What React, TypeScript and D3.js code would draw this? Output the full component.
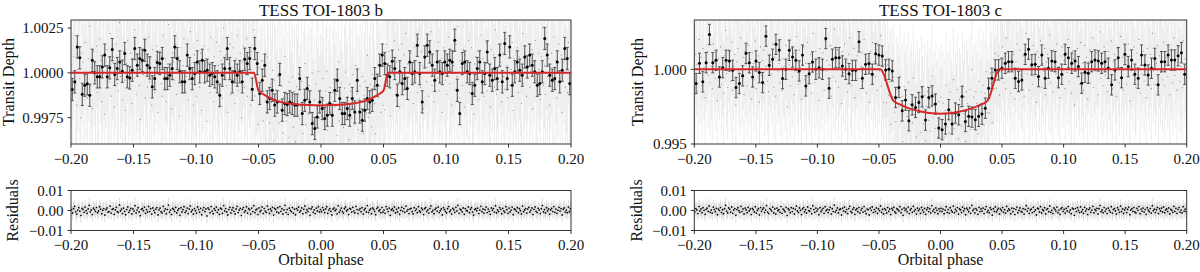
import * as d3 from "d3";
import React from "react";

const WIDTH = 1200;
const HEIGHT = 272;
const FONT = '"Liberation Serif", "Times New Roman", Times, serif';

const xTicks = [-0.2, -0.15, -0.1, -0.05, 0, 0.05, 0.1, 0.15, 0.2];

// binned light curve of TOI-1803 b, deviation from 1 in ppm (bins of 0.002 in phase)
const binStartB = -0.199;
const binStepB = 0.002;
const binErrB = 0.00062;
const binPpmB = [
  -930, -500, 1450, 840, -1200, -690, -610, -1250, 700, 0,
  -220, -220, 330, 990, -220, 280, 1300, -90, 240, 610,
  90, 1080, -220, -280, 150, 1360, 430, 800, 700, 1260,
  430, 280, -780, -320, 580, 520, 800, -320, -320, -130,
  240, 1450, 800, 60, -500, -500, 990, 240, -320, -40,
  610, 60, 700, 60, 150, -130, -40, -220, -500, -1250,
  -130, 240, 1360, 240, -500, 60, -130, 60, -500, 760,
  520, 800, -910,
  // in transit
  1360, 520, -1150, -410, 430, -1620, -1430, -970, -1800, -1620,
  -90, -2080, -1710, -1770, -1620, -1710, -1800, -1800, -320, -2270,
  -1530, -870, -1620, -2830, -3100, -2460, -1620,
  -1990, -2550, -2360, -1710, -2360, -970, -410, -1430, -2270, -2270,
  -1990, -2360, -1430, -2180, -410, -2180, -2640, -2080, -1430, -1620,
  -1530, -320, -690, 430, 990, 520,
  // after egress
  -130, -220, 650, 240, -1250, 60, -600, -320, -870, 610,
  -40, 60, 1540, -40, -1620, 890, 1540, 1170, 430, -410,
  610, 60, -40, 610, 430, 700, 610, 1820, -970, -2270,
  520, 610, 60, -40, -1150, -690, 240, 610, -500, -40,
  1170, -130, -410, 240, -320, 990, -500, 1640, -320, 1450,
  -690, 60, 610, 150, -130, 890, 330, 990, 430, 60,
  -690, -600, 60, 1920, 990, -130, -410, -320, 610, -500,
  150, 1360, 800, -600,
];

// binned light curve of TOI-1803 c, deviation from 1 in ppm (bins of 0.0027 in phase)
const binStartC = -0.1985;
const binStepC = 0.0027;
const binErrC = 0.00068;
const binPpmC = [
  -950, 400, -840, 440, 2330, 440, 600, -510, 110, 600,
  560, -70, -1220, -950, -440, 1070, 440, -510, 560, -220,
  -890, 2220, 270, 670, 1670, 1290, -620, 0, 1270, 820,
  600, -110, 950, -1110, -290, 490, 0, 100, 0, 2060,
  -1270, 670, 780, 780, 220, 0, -290, -70, -70, 1840,
  -600, 330, 380, -330, 1040, 950,
  // in transit
  890, -40, 0, -110, -1890, -1220, -2780, -2060, -3440, -2380,
  -2550, -2220, -1840, -3400, -1890, -1780, -2330, -3930, -4040, -3660,
  -2700, -3660, -2930, -3040, -1820, -3490, -3150, -3200, -3370, -3150,
  -3000, -2600, -1270, -600, -40, -40,
  // after egress
  70, 400, 510, 510, -600, -820, -710, 1000, 1350, 300,
  330, -490, 950, -600, 70, 560, 510, -560, -330, 1000,
  780, 400, 560, 180, -930, -200, -270, 510, 620, 560,
  400, 510, 70, -1040, -40, 780, -560, 1000, 180, 620,
  -330, -600, 950, 290, -380, 70, 730, -1040, 510, 510,
  950, 620, 620, 910, 1110, -330,
];

// transit models
const modelPhaseB = [
  -0.2, -0.0536, -0.05, -0.045, -0.04, -0.035, -0.03, -0.02, -0.01, 0,
  0.01, 0.02, 0.03, 0.035, 0.04, 0.045, 0.05, 0.0536, 0.2,
];
const modelFluxB = [
  1, 1, 0.99901, 0.99876, 0.99857, 0.99843, 0.99834, 0.99825, 0.9982, 0.99818,
  0.9982, 0.99825, 0.99834, 0.99843, 0.99857, 0.99876, 0.99901, 1, 1,
];
const modelPhaseC = [
  -0.2, -0.049, -0.0383, -0.033, -0.025, -0.015, -0.007, 0,
  0.007, 0.015, 0.025, 0.033, 0.0383, 0.048, 0.2,
];
const modelFluxC = [
  1, 1, 0.9979, 0.99765, 0.99737, 0.99716, 0.99706, 0.99703,
  0.99706, 0.99716, 0.99737, 0.99765, 0.9979, 1, 1,
];

// residuals of the unbinned data, in units of 1e-4
const residB = [
  4, -12, 9, 21, -6, -18, 2, 14, -3, -25, 11, 6, -9, 17, -1, -14, 8, 26, -7, 3,
  -20, 12, 5, -4, 15, -11, -2, 19, 7, -16, 1, 10, -23, 4, 13, -8, -5, 22, -13, 6,
  9, -19, 3, 16, -6, -10, 28, -2, 7, -15, 12, -4, -21, 5, 18, -9, 1, 11, -17, 8,
  -3, 24, -12, 2, 14, -7, -26, 6, 10, -1, 17, -14, 4, -8, 20, -5, 9, -18, 13, 0,
  -11, 7, 15, -22, 3, 12, -6, -13, 21, -3, 8, -16, 5, 27, -9, 2, -20, 11, 6, -4,
  16, -12, 1, 9, -24, 14, -7, 4, 19, -10, -2, 12, -15, 7, 23, -6, 3, -18, 10, -1,
  -13, 18, 5, -8, 11, -21, 2, 15, -5, 8, -27, 13, 6, -11, 20, -3, -16, 9, 1, 17,
  -9, 4, -19, 12, 7, -14, 25, -2, 10, -7, -22, 5, 16, -12, 3, 14, -4, -17, 8, 21,
  -10, 2, 11, -25, 6, 15, -8, -1, 19, -13, 9, 4, -18, 12, -5, 24, -11, 3, 7, -20,
  13, -6, 1, 18, -15, 10, -3, -9, 22, 5, -14, 8, -2, 16, -23, 11, 6, -7, 14, -12,
  20, -4, 9, -17, 3, 26, -10, 5, -19, 12, 1, -6, 15, -13, 7, -21, 10, 2, 17, -8,
  -1, 13, -16, 6, 23, -11, 4, -5, 11, -24, 8, 18, -9, 3, -15, 12, -2, 19, -7, 5,
  -6, 15, 3, -11, 8, 19, -14, 2, 10, -4, -22, 7, 13, -1, 6, -17, 24, -9, 1, 12,
  -5, -13, 9, 18, -2, 4, -20, 11, 7, -8, 16, -3, -12, 21, 5, -15, 2, 9, -6, 14,
  -18, 3, 11, -7, 25, -10, 1, 8, -16, 13, 6, -4, -21, 10, 17, -2, 4, -11, 15, -8,
  2, -14, 20, 7, -5, 12, -24, 3, 9, -1, 18, -12, 6, -7, 13, -19, 1, 16, -4, 10,
  -9, 22, -3, 5, -15, 8, 11, -6, -17, 14, 0, 7, -11, 19, -2, -8, 12, 4, -20, 9,
  15, -5, 3, -13, 10, 23, -7, 1, -16, 6, 12, -3, 17, -10, -1, 8, -22, 14, 5, -4,
  -12, 9, 20, -6, 2, -18, 11, 4, -9, 16, -2, 26, -14, 7, 3, -7, 13, -19, 10, 1,
  -3, 18, -11, 6, 14, -8, -23, 5, 9, -1, 12, -15, 2, 21, -6, 8, -13, 4, 17, -10,
  7, -4, -19, 13, 1, 10, -8, 24, -12, 3, -5, 15, 6, -16, 11, -2, -9, 19, 4, -14,
  12, -7, 2, 17, -21, 8, 5, -3, 14, -11, 9, -1, -17, 22, -6, 3, 10, -13, 7, 16,
  -8, 1, 13, -20, 6, 18, -4, -10, 11, 2, -15, 9, 25, -7, 4, -12, 14, -2, 8, -18,
  3, 11, -5, 20, -9, 7, -14, 1, 16, -3, 10, -22, 6, 13, -8, 2, -11, 17, -6, 9,
];
const residC = [
  -7, 10, 3, -15, 20, -2, 8, -11, 14, 1, -19, 6, 12, -4, 23, -9, 2, -13, 17, 5,
  -6, 11, -21, 7, 0, 15, -10, 4, -16, 9, 26, -3, -12, 13, 6, -8, 18, -14, 2, 10,
  -24, 5, 14, -1, -9, 21, -5, 8, -17, 12, 3, -11, 16, -2, 7, -20, 11, 4, -7, 19,
  -13, 1, 9, -22, 15, -4, 6, 13, -10, 2, 25, -8, -15, 10, 5, -3, 17, -12, 8, -18,
  12, -1, 4, -9, 20, -14, 7, 2, -6, 16, -25, 9, 3, -11, 14, -5, 11, -17, 6, 22,
  -2, -10, 13, 1, -20, 8, 15, -7, 4, -13, 18, 0, -4, 10, -16, 24, 5, -9, 12, -3,
  7, -21, 14, -6, 2, 11, -14, 19, -1, 6, -10, 3, 16, -18, 9, -5, 27, -8, 1, 13,
  -12, 4, 8, -23, 12, -2, 17, -7, 5, -15, 10, 21, -4, -11, 6, 14, -19, 3, 9, -6,
  15, -13, 2, 11, -8, 20, -3, -16, 7, 4, -22, 12, 1, 18, -10, 5, -5, 13, -14, 8,
  -1, 23, -9, 6, -17, 10, 3, -12, 15, -4, 7, -20, 11, 2, 16, -7, -13, 9, 4, -2,
  19, -11, 6, -24, 13, 1, 8, -6, 17, -15, 3, 10, -9, 21, -3, 5, -18, 12, -1, 7,
  -14, 16, 2, -8, 11, -19, 4, 14, -5, 9, -12, 25, -3, 6, -10, 13, 1, -16, 8, -4,
  11, -4, 7, -16, 2, 19, -9, 5, -13, 14, 1, -7, 22, -11, 6, -3, 15, -18, 8, 3,
  -10, 17, -2, 9, -21, 12, 4, -6, 13, -14, 26, -1, 7, -12, 10, 2, -19, 16, -5, 8,
  -3, 12, -15, 6, 20, -8, 1, -11, 14, 5, -23, 9, -4, 18, -7, 3, 11, -17, 7, -1,
  15, -9, 4, -13, 21, -2, 8, 2, -16, 12, -6, 10, -20, 5, 17, -11, 1, 13, -4, -8,
  9, -18, 6, 24, -3, 11, -14, 2, 7, -10, 16, -5, 3, -22, 12, 8, -7, 19, -12, 4,
  -1, 14, -17, 5, 10, -6, 23, -9, 1, -15, 13, 6, -3, 17, -11, 2, -19, 9, 15, -4,
  6, -13, 11, -2, 20, -8, 3, -16, 12, 7, -24, 10, -5, 14, 1, -10, 18, -7, 4, -14,
  16, -3, 8, -20, 5, 13, -9, 2, 21, -12, 6, -1, 11, -17, 9, 25, -6, 3, -11, 15,
  -4, 7, -15, 12, 1, -8, 19, -13, 5, 10, -2, -18, 14, 4, -9, 22, -5, 8, -14, 3,
  13, -10, 6, 17, -21, 2, 9, -4, 15, -7, -12, 11, 1, 20, -16, 7, -3, 12, -8, 5,
  -19, 14, 2, -6, 10, -13, 24, -1, 7, -10, 4, 16, -15, 9, -2, 12, -7, 18, -11, 3,
  8, -5, 13, -17, 6, 1, -9, 21, -4, 11, -14, 5, 15, -8, 2, -12, 19, -3, 7, -6,
];
const rawErr = 0.0035;

type Scale = d3.ScaleLinear<number, number>;

interface Pt {
  phase: number;
  flux: number;
}

interface AxesProps {
  id: string;
  left: number;
  right: number;
  top: number;
  bottom: number;
  yDomain: [number, number];
  yTicks: number[];
  yFormat: string;
  yLabel: string;
  yLabelX: number;
  title?: string;
  xLabel?: string;
  render: (x: Scale, y: Scale) => React.ReactNode;
}

const Axes: React.FC<AxesProps> = ({
  id, left, right, top, bottom, yDomain, yTicks, yFormat, yLabel, yLabelX, title, xLabel, render,
}) => {
  const x = d3.scaleLinear().domain([-0.2, 0.2]).range([left, right]);
  const y = d3.scaleLinear().domain(yDomain).range([bottom, top]);
  const fy = d3.format(yFormat);
  const fx = d3.format(".2f");
  const cx = (left + right) / 2;
  return (
    <g>
      <defs>
        <clipPath id={id}>
          <rect x={left} y={top} width={right - left} height={bottom - top} />
        </clipPath>
      </defs>
      <g clipPath={`url(#${id})`}>{render(x, y)}</g>
      <rect x={left} y={top} width={right - left} height={bottom - top} fill="none" stroke="#333" strokeWidth={1} />
      {xTicks.map((t) => (
        <g key={t}>
          <line x1={x(t)} x2={x(t)} y1={bottom} y2={bottom + 3.5} stroke="#333" />
          <text x={x(t)} y={bottom + 19.5} textAnchor="middle" fontSize={15}>
            {fx(t)}
          </text>
        </g>
      ))}
      {yTicks.map((t) => (
        <g key={t}>
          <line x1={left - 3.5} x2={left} y1={y(t)} y2={y(t)} stroke="#333" />
          <text x={left - 7.5} y={y(t)} dy="0.35em" textAnchor="end" fontSize={15}>
            {fy(t)}
          </text>
        </g>
      ))}
      <text
        transform={`translate(${yLabelX},${(top + bottom) / 2}) rotate(-90)`}
        textAnchor="middle"
        fontSize={16}
      >
        {yLabel}
      </text>
      {title && (
        <text x={cx} y={15.5} textAnchor="middle" fontSize={17}>
          {title}
        </text>
      )}
      {xLabel && (
        <text x={cx} y={265} textAnchor="middle" fontSize={16}>
          {xLabel}
        </text>
      )}
    </g>
  );
};

const rawPhase = (n: number, i: number) => -0.2 + ((i + 0.5) * 0.4) / n;

interface CloudProps {
  pts: Pt[];
  x: Scale;
  y: Scale;
  dot: string;
  r: number;
  barColor: string;
  barOpacity: number;
}

const RawCloud: React.FC<CloudProps> = ({ pts, x, y, dot, r, barColor, barOpacity }) => (
  <g>
    {pts.map((d, i) => (
      <line
        key={`e${i}`}
        x1={x(d.phase)}
        x2={x(d.phase)}
        y1={y(d.flux - rawErr)}
        y2={y(d.flux + rawErr)}
        stroke={barColor}
        strokeOpacity={barOpacity}
        strokeWidth={1}
      />
    ))}
    {pts.map((d, i) => (
      <circle key={`p${i}`} cx={x(d.phase)} cy={y(d.flux)} r={r} fill={dot} />
    ))}
  </g>
);

const Binned: React.FC<{ pts: Pt[]; err: number; x: Scale; y: Scale }> = ({ pts, err, x, y }) => (
  <g>
    {pts.map((d, i) => {
      const px = x(d.phase);
      const y0 = y(d.flux - err);
      const y1 = y(d.flux + err);
      return (
        <g key={i} stroke="#505050" strokeWidth={1}>
          <line x1={px} x2={px} y1={y0} y2={y1} />
          <line x1={px - 1.5} x2={px + 1.5} y1={y0} y2={y0} />
          <line x1={px - 1.5} x2={px + 1.5} y1={y1} y2={y1} />
        </g>
      );
    })}
    {pts.map((d, i) => (
      <circle key={i} cx={x(d.phase)} cy={y(d.flux)} r={1.5} fill="#000" />
    ))}
  </g>
);

interface PlanetProps {
  name: string;
  left: number;
  right: number;
  binPpm: number[];
  binStart: number;
  binStep: number;
  binErr: number;
  modelPhase: number[];
  modelFlux: number[];
  resid: number[];
  yDomain: [number, number];
  yTicks: number[];
  yFormat: string;
  yLabelX: number;
  resLabelX: number;
}

const Planet: React.FC<PlanetProps> = (p) => {
  const model = d3.scaleLinear().domain(p.modelPhase).range(p.modelFlux).clamp(true);
  const bins: Pt[] = p.binPpm.map((v, i) => ({ phase: p.binStart + i * p.binStep, flux: 1 + v * 1e-6 }));
  const res: Pt[] = p.resid.map((v, i) => ({ phase: rawPhase(p.resid.length, i), flux: v * 1e-4 }));
  const raw: Pt[] = res.map((d) => ({ phase: d.phase, flux: model(d.phase) + d.flux }));
  const modelPts: Pt[] = p.modelPhase.map((ph, i) => ({ phase: ph, flux: p.modelFlux[i] }));
  return (
    <g>
      <Axes
        id={`top-${p.name}`}
        left={p.left}
        right={p.right}
        top={20}
        bottom={144}
        yDomain={p.yDomain}
        yTicks={p.yTicks}
        yFormat={p.yFormat}
        yLabel="Transit Depth"
        yLabelX={p.yLabelX}
        title={`TESS TOI-1803 ${p.name}`}
        render={(x, y) => {
          const line = d3
            .line<Pt>()
            .x((d) => x(d.phase))
            .y((d) => y(d.flux))
            .curve(d3.curveMonotoneX);
          return (
            <g>
              <RawCloud pts={raw} x={x} y={y} dot="#8a8a8a" r={0.6} barColor="#bdbdbd" barOpacity={0.28} />
              <Binned pts={bins} err={p.binErr} x={x} y={y} />
              <path d={line(modelPts) ?? ""} fill="none" stroke="#d62728" strokeWidth={2} />
            </g>
          );
        }}
      />
      <Axes
        id={`res-${p.name}`}
        left={p.left}
        right={p.right}
        top={190.5}
        bottom={230.5}
        yDomain={[-0.01, 0.01]}
        yTicks={[-0.01, 0, 0.01]}
        yFormat=".2f"
        yLabel="Residuals"
        yLabelX={p.resLabelX}
        xLabel="Orbital phase"
        render={(x, y) => (
          <RawCloud pts={res} x={x} y={y} dot="#000" r={0.85} barColor="#9a9a9a" barOpacity={0.35} />
        )}
      />
    </g>
  );
};

export default function App() {
  return (
    <svg
      width={WIDTH}
      height={HEIGHT}
      viewBox={`0 0 ${WIDTH} ${HEIGHT}`}
      style={{ position: "absolute", left: 0, top: 0, background: "#fff", fontFamily: FONT }}
      fill="#111"
    >
      <rect width={WIDTH} height={HEIGHT} fill="#fff" />
      <Planet
        name="b"
        left={71}
        right={571}
        binPpm={binPpmB}
        binStart={binStartB}
        binStep={binStepB}
        binErr={binErrB}
        modelPhase={modelPhaseB}
        modelFlux={modelFluxB}
        resid={residB}
        yDomain={[0.99603, 1.00295]}
        yTicks={[0.9975, 1.0, 1.0025]}
        yFormat=".4f"
        yLabelX={14}
        resLabelX={18}
      />
      <Planet
        name="c"
        left={694.3}
        right={1186.7}
        binPpm={binPpmC}
        binStart={binStartC}
        binStep={binStepC}
        binErr={binErrC}
        modelPhase={modelPhaseC}
        modelFlux={modelFluxC}
        resid={residC}
        yDomain={[0.995, 1.0033]}
        yTicks={[0.995, 1.0]}
        yFormat=".3f"
        yLabelX={643}
        resLabelX={642}
      />
    </svg>
  );
}
